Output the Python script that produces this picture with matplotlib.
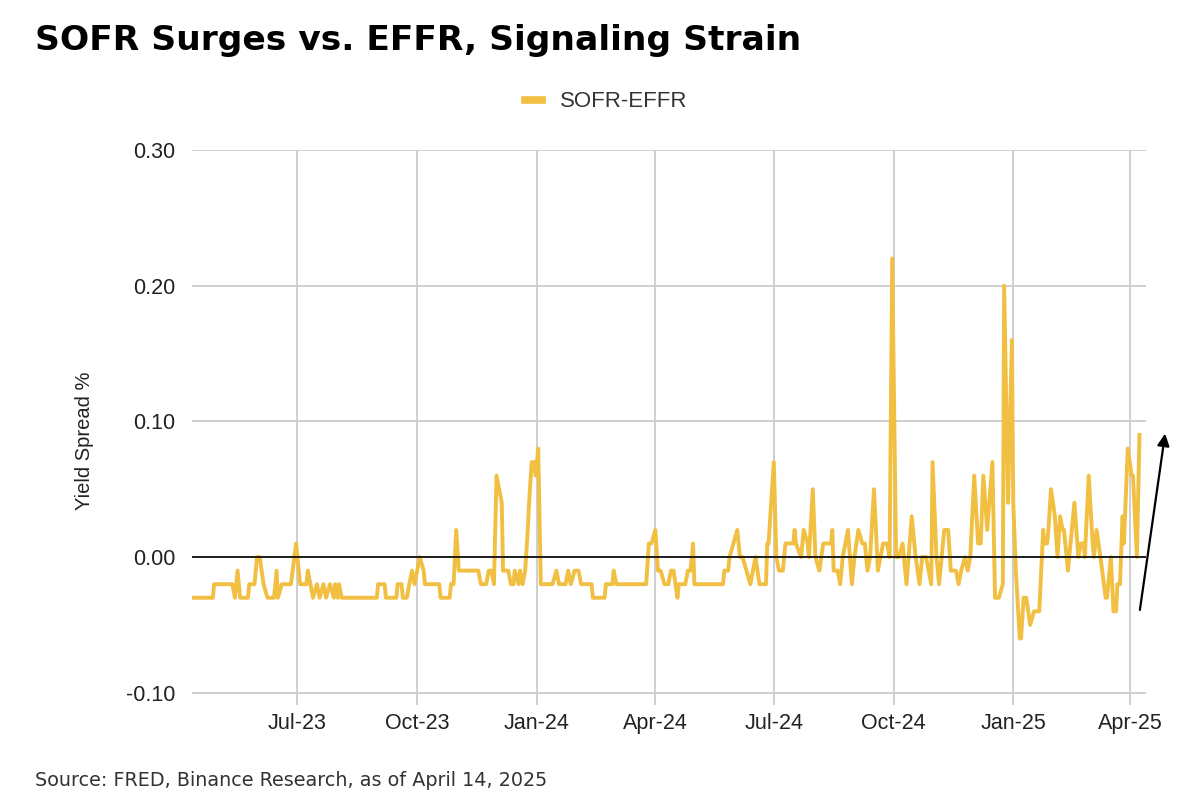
import pandas as pd
import matplotlib
matplotlib.use("Agg")
import matplotlib.pyplot as plt
import matplotlib.dates as mdates
from matplotlib.lines import Line2D

#-----------------------------------------------------
#-------- DONNEES -------------------------------------

dates = [
    # avr - aout 2023
    "2023-04-12", "2023-04-27", "2023-04-28", "2023-05-12", "2023-05-14", "2023-05-16", "2023-05-18", "2023-05-24",
    "2023-05-25", "2023-05-29", "2023-05-31", "2023-06-02", "2023-06-05", "2023-06-08", "2023-06-13", "2023-06-15",
    "2023-06-16", "2023-06-19", "2023-06-26", "2023-06-30", "2023-07-03", "2023-07-08", "2023-07-09", "2023-07-13",
    "2023-07-16", "2023-07-18", "2023-07-21", "2023-07-23", "2023-07-26", "2023-07-29", "2023-07-30", "2023-08-01",
    "2023-08-02", "2023-08-04", "2023-08-31",
    # sept - dec 2023
    "2023-09-01", "2023-09-06", "2023-09-07", "2023-09-15", "2023-09-16", "2023-09-19", "2023-09-20", "2023-09-23",
    "2023-09-25", "2023-09-27", "2023-09-29", "2023-10-03", "2023-10-06", "2023-10-07", "2023-10-18", "2023-10-19",
    "2023-10-26", "2023-10-27", "2023-10-29", "2023-10-31", "2023-11-02", "2023-11-17", "2023-11-19", "2023-11-23",
    "2023-11-25", "2023-11-27", "2023-11-29", "2023-12-01", "2023-12-05", "2023-12-06", "2023-12-10", "2023-12-12",
    # dec 2023 - avr 2024
    "2023-12-14", "2023-12-15", "2023-12-18", "2023-12-19", "2023-12-21", "2023-12-23", "2023-12-25", "2023-12-26",
    "2023-12-28", "2023-12-30", "2023-12-31", "2024-01-02", "2024-01-04", "2024-01-13", "2024-01-16", "2024-01-18",
    "2024-01-23", "2024-01-25", "2024-01-27", "2024-01-30", "2024-02-02", "2024-02-04", "2024-02-12", "2024-02-13",
    "2024-02-22", "2024-02-23", "2024-02-28", "2024-02-29", "2024-03-02", "2024-03-25", "2024-03-27", "2024-03-29",
    "2024-04-01", "2024-04-03", "2024-04-05", "2024-04-08", "2024-04-11",
    # avr - aout 2024
    "2024-04-13", "2024-04-15", "2024-04-18", "2024-04-19", "2024-04-24", "2024-04-26", "2024-04-28", "2024-04-30",
    "2024-05-01", "2024-05-23", "2024-05-24", "2024-05-27", "2024-05-28", "2024-05-31", "2024-06-03", "2024-06-05",
    "2024-06-07", "2024-06-10", "2024-06-13", "2024-06-17", "2024-06-20", "2024-06-25", "2024-06-26", "2024-06-27",
    "2024-07-01", "2024-07-03", "2024-07-05", "2024-07-08", "2024-07-10", "2024-07-16", "2024-07-17", "2024-07-18",
    "2024-07-22", "2024-07-24", "2024-07-27", "2024-07-28", "2024-07-31", "2024-08-02", "2024-08-05", "2024-08-08",
    "2024-08-14",
    # aout - dec 2024
    "2024-08-15", "2024-08-16", "2024-08-19", "2024-08-21", "2024-08-23", "2024-08-27", "2024-08-30", "2024-09-01",
    "2024-09-04", "2024-09-07", "2024-09-09", "2024-09-11", "2024-09-13", "2024-09-16", "2024-09-19", "2024-09-21",
    "2024-09-23", "2024-09-26", "2024-09-28", "2024-09-30", "2024-10-03", "2024-10-05", "2024-10-08", "2024-10-11",
    "2024-10-15", "2024-10-18", "2024-10-21", "2024-10-23", "2024-10-26", "2024-10-30", "2024-10-31", "2024-11-03",
    "2024-11-05", "2024-11-09", "2024-11-12", "2024-11-14", "2024-11-18", "2024-11-20", "2024-11-22", "2024-11-25",
    "2024-11-27", "2024-11-29", "2024-12-02", "2024-12-05", "2024-12-07", "2024-12-09", "2024-12-12", "2024-12-16",
    "2024-12-18", "2024-12-21",
    # dec 2024 - avr 2025
    "2024-12-24", "2024-12-25", "2024-12-28", "2024-12-31", "2025-01-01", "2025-01-03", "2025-01-06", "2025-01-07",
    "2025-01-09", "2025-01-11", "2025-01-14", "2025-01-17", "2025-01-21", "2025-01-24", "2025-01-25", "2025-01-27",
    "2025-01-28", "2025-01-30", "2025-02-02", "2025-02-04", "2025-02-06", "2025-02-08", "2025-02-09", "2025-02-12",
    "2025-02-15", "2025-02-17", "2025-02-20", "2025-02-22", "2025-02-24", "2025-02-25", "2025-02-28", "2025-03-03",
    "2025-03-04", "2025-03-06", "2025-03-09", "2025-03-13", "2025-03-14", "2025-03-17", "2025-03-19", "2025-03-21",
    "2025-03-22", "2025-03-24", "2025-03-26", "2025-03-27", "2025-03-30", "2025-04-02", "2025-04-03", "2025-04-06",
    "2025-04-08",
]

sofr_effr = [
    # avr - aout 2023
    -0.03, -0.03, -0.02, -0.02, -0.03, -0.01, -0.03, -0.03,
    -0.02, -0.02, 0.00, 0.00, -0.02, -0.03, -0.03, -0.01,
    -0.03, -0.02, -0.02, 0.01, -0.02, -0.02, -0.01, -0.03,
    -0.02, -0.03, -0.02, -0.03, -0.02, -0.03, -0.02, -0.03,
    -0.02, -0.03, -0.03,
    # sept - dec 2023
    -0.02, -0.02, -0.03, -0.03, -0.02, -0.02, -0.03, -0.03,
    -0.02, -0.01, -0.02, 0.00, -0.01, -0.02, -0.02, -0.03,
    -0.03, -0.02, -0.02, 0.02, -0.01, -0.01, -0.02, -0.02,
    -0.01, -0.01, -0.02, 0.06, 0.04, -0.01, -0.01, -0.02,
    # dec 2023 - avr 2024
    -0.02, -0.01, -0.02, -0.01, -0.02, -0.01, 0.02, 0.04,
    0.07, 0.07, 0.06, 0.08, -0.02, -0.02, -0.01, -0.02,
    -0.02, -0.01, -0.02, -0.01, -0.01, -0.02, -0.02, -0.03,
    -0.03, -0.02, -0.02, -0.01, -0.02, -0.02, 0.01, 0.01,
    0.02, -0.01, -0.01, -0.02, -0.02,
    # avr - aout 2024
    -0.01, -0.01, -0.03, -0.02, -0.02, -0.01, -0.01, 0.01,
    -0.02, -0.02, -0.01, -0.01, 0.00, 0.01, 0.02, 0.00,
    0.00, -0.01, -0.02, 0.00, -0.02, -0.02, 0.01, 0.01,
    0.07, 0.00, -0.01, -0.01, 0.01, 0.01, 0.02, 0.01,
    0.00, 0.02, 0.01, 0.00, 0.05, 0.00, -0.01, 0.01,
    0.01,
    # aout - dec 2024
    0.02, -0.01, -0.01, -0.02, 0.00, 0.02, -0.02, 0.00,
    0.02, 0.01, 0.01, -0.01, 0.00, 0.05, -0.01, 0.00,
    0.01, 0.01, 0.00, 0.22, 0.00, 0.00, 0.01, -0.02,
    0.03, 0.00, -0.02, 0.00, 0.00, -0.02, 0.07, 0.00,
    -0.02, 0.02, 0.02, -0.01, -0.01, -0.02, -0.01, 0.00,
    -0.01, 0.00, 0.06, 0.01, 0.01, 0.06, 0.02, 0.07,
    -0.03, -0.03,
    # dec 2024 - avr 2025
    -0.02, 0.20, 0.04, 0.16, 0.04, -0.01, -0.06, -0.06,
    -0.03, -0.03, -0.05, -0.04, -0.04, 0.02, 0.01, 0.01,
    0.02, 0.05, 0.03, 0.00, 0.03, 0.02, 0.02, -0.01,
    0.02, 0.04, 0.00, 0.01, 0.01, 0.00, 0.06, 0.01,
    0.00, 0.02, 0.00, -0.03, -0.03, 0.00, -0.04, -0.04,
    -0.02, -0.02, 0.03, 0.01, 0.08, 0.06, 0.06, 0.00,
    0.09,
]

assert len(dates) == len(sofr_effr)

tick_dates = ["2023-07-01", "2023-10-01", "2024-01-01", "2024-04-01",
              "2024-07-01", "2024-10-01", "2025-01-01", "2025-04-01"]
y_ticks = [-0.10, 0.00, 0.10, 0.20, 0.30]

# fleche (debut -> fin)
arrow_start = ("2025-04-08", -0.041)
arrow_end = ("2025-04-28", 0.093)

df = pd.DataFrame({"date": pd.to_datetime(dates), "spread": sofr_effr})

#-----------------------------------------------------
#-------- GRAPHIQUE -----------------------------------

jaune = "#F1C043"
txt = "#222222"

fig = plt.figure(figsize=(12, 8.02), dpi=100)
ax = fig.add_axes([0.16, 0.121, 0.795, 0.692])

ax.plot(df["date"], df["spread"], color=jaune, lw=2.8, solid_joinstyle="round")
ax.axhline(0, color="black", lw=1.2, zorder=3)

ax.set_ylim(-0.109, 0.30)
ax.set_xlim(pd.Timestamp("2023-04-11"), pd.Timestamp("2025-04-13"))

ax.set_yticks(y_ticks)
ax.set_yticklabels([f"{v:.2f}" for v in y_ticks])
ax.set_xticks(pd.to_datetime(tick_dates))
ax.xaxis.set_major_formatter(mdates.DateFormatter("%b-%y"))

ax.grid(True, color="#cccccc", lw=1.3)
ax.set_axisbelow(True)
for s in ax.spines.values():
    s.set_visible(False)
ax.tick_params(length=0, labelsize=15.5, labelcolor=txt)
ax.tick_params(axis="y", pad=12)
ax.tick_params(axis="x", pad=6)
for lab in ax.get_xticklabels() + ax.get_yticklabels():
    lab.set_family("Liberation Sans")

fig.text(0.070, 0.451, "Yield Spread %", rotation=90, ha="center", va="center",
         fontsize=14.5, color=txt, family="Liberation Sans")

# fleche noire
ax.annotate("", xy=(pd.Timestamp(arrow_end[0]), arrow_end[1]),
            xytext=(pd.Timestamp(arrow_start[0]), arrow_start[1]),
            arrowprops=dict(arrowstyle="-|>", color="black", lw=1.6, mutation_scale=18),
            annotation_clip=False)

# legende
handle = Line2D([0], [0], color=jaune, lw=5.5)
leg = fig.legend([handle], ["SOFR-EFFR"], loc="center", bbox_to_anchor=(0.505, 0.873),
                 frameon=False, handlelength=0.75, handletextpad=0.8,
                 prop={"family": "Liberation Sans", "size": 16})
for t in leg.get_texts():
    t.set_color("#333333")

fig.text(0.029, 0.950, "SOFR Surges vs. EFFR, Signaling Strain", ha="left", va="center",
         fontsize=24.8, fontweight="bold", family="DejaVu Sans", color="black")

fig.text(0.029, 0.027, "Source: FRED, Binance Research, as of April 14, 2025", ha="left", va="center",
         fontsize=13.8, family="DejaVu Sans", color="#333333")

fig.savefig("out.png", dpi=100)
